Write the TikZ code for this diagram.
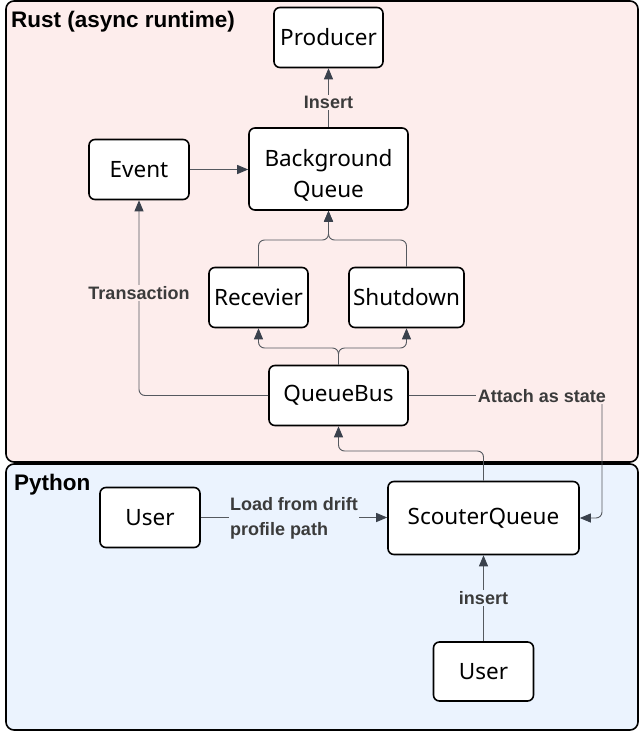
\documentclass[tikz,border=0pt]{standalone}
\usepackage{fontspec}
\setmainfont{Noto Sans}
\newfontfamily\lblfont{Liberation Sans}
\usetikzlibrary{arrows.meta}
\definecolor{rustbg}{HTML}{FDEDEC}
\definecolor{pybg}{HTML}{EBF3FE}
\definecolor{edgecol}{HTML}{55595F}
\definecolor{tipcol}{HTML}{3A414C}
\definecolor{lblcol}{HTML}{3B3B3B}
\tikzset{
  cluster/.style={draw=black, line width=1.6pt, rounded corners=8pt},
  box/.style={draw=black, line width=1.6pt, rounded corners=6pt, fill=white,
    font=\fontsize{22.5}{31}\selectfont, align=center, inner sep=0pt},
  boxtext/.style={font=\fontsize{22.5}{31}\selectfont, align=center, inner sep=0pt},
  edge/.style={draw=edgecol, line width=0.9pt,
    -{Triangle[length=11pt,width=9pt,color=tipcol]}},
  lbl/.style={font=\lblfont\bfseries\fontsize{18}{25}\selectfont, text=lblcol, inner sep=1.5pt},
  ttl/.style={font=\lblfont\bfseries\fontsize{22.5}{26}\selectfont, text=black, anchor=west, inner sep=0pt}
}
\begin{document}
\begin{tikzpicture}[x=1pt,y=-1pt]
\useasboundingbox (0,0) rectangle (639,732);
\draw[cluster, fill=rustbg] (6,1) rectangle (638,462);
\draw[cluster, fill=pybg] (6,464) rectangle (638,730);
\node[ttl] (trust) at (11,22) {Rust (async runtime)};
\node[ttl] (tpy) at (14,485) {Python};

\node[box, minimum width=109, minimum height=60] (prod) at (328.5,37.5) {Producer};
\node[box, minimum width=159, minimum height=82] (bq) at (328.5,169) {};
\node[boxtext] (bqtext) at (328.5,175) {Background\\Queue};
\node[box, minimum width=100, minimum height=60] (ev) at (139,169.5) {Event};
\node[box, minimum width=99, minimum height=60] (rec) at (258.5,297.5) {Recevier};
\node[box, minimum width=115, minimum height=60] (shut) at (406.5,297.5) {Shutdown};
\node[box, minimum width=139, minimum height=60] (qb) at (338.5,395.5) {QueueBus};
\node[box, minimum width=191, minimum height=73] (sq) at (483.5,518) {ScouterQueue};
\node[box, minimum width=100, minimum height=60] (u1) at (150,517.5) {User};
\node[box, minimum width=100, minimum height=59] (u2) at (483.5,671.5) {User};

\coordinate (mergeL) at (258.5,240);
\coordinate (mergeR) at (406.5,240);
\coordinate (mergeC) at (328.5,240);
\coordinate (splitC) at (338.5,348);
\coordinate (splitL) at (258.5,348);
\coordinate (splitR) at (406.5,348);
\coordinate (trL) at (139,395.5);
\coordinate (sqUp) at (483.5,451);
\coordinate (qbDown) at (338.5,451);
\coordinate (atR) at (602,395.5);
\coordinate (atD) at (602,518);

% Background Queue -> Producer
\draw[edge] (bq.north) -- node[lbl, fill=rustbg, pos=0.42] (linsert) {Insert} (prod.south);
% Event -> BQ
\draw[edge] (ev.east) -- (bq.west |- ev.east);
% Recevier / Shutdown -> BQ
\draw[edge, rounded corners=6pt] (rec.north) -- (mergeL) -- (mergeC) -- (bq.south);
\draw[edge, rounded corners=6pt] (shut.north) -- (mergeR) -- (mergeC) -- (bq.south);
% QueueBus -> Recevier / Shutdown
\draw[edge, rounded corners=6pt] (qb.north) -- (splitC) -- (splitL) -- (rec.south);
\draw[edge, rounded corners=6pt] (qb.north) -- (splitC) -- (splitR) -- (shut.south);
% QueueBus -> Event (Transaction)
\draw[edge, rounded corners=6pt] (qb.west) -- (trL) -- (ev.south);
\node[lbl, fill=rustbg] (ltrans) at (139,293) {Transaction};
% ScouterQueue -> QueueBus
\draw[edge, rounded corners=6pt] (sq.north) -- (sqUp) -- (qbDown) -- (qb.south);
% QueueBus -> ScouterQueue (Attach as state)
\draw[edge, rounded corners=6pt] (qb.east) -- (atR) -- (atD) -- (sq.east);
\node[lbl, fill=rustbg] (lattach) at (542,396) {Attach as state};
% User -> ScouterQueue
\draw[edge] (u1.east) -- (sq.west |- u1.east);
\node[lbl, fill=pybg, align=left] (lload) at (294,518) {Load from drift\\profile path};
% User -> ScouterQueue (insert)
\draw[edge] (u2.north) -- (sq.south);
\node[lbl, fill=pybg] (linsert2) at (483.5,598) {insert};
\end{tikzpicture}
\end{document}
